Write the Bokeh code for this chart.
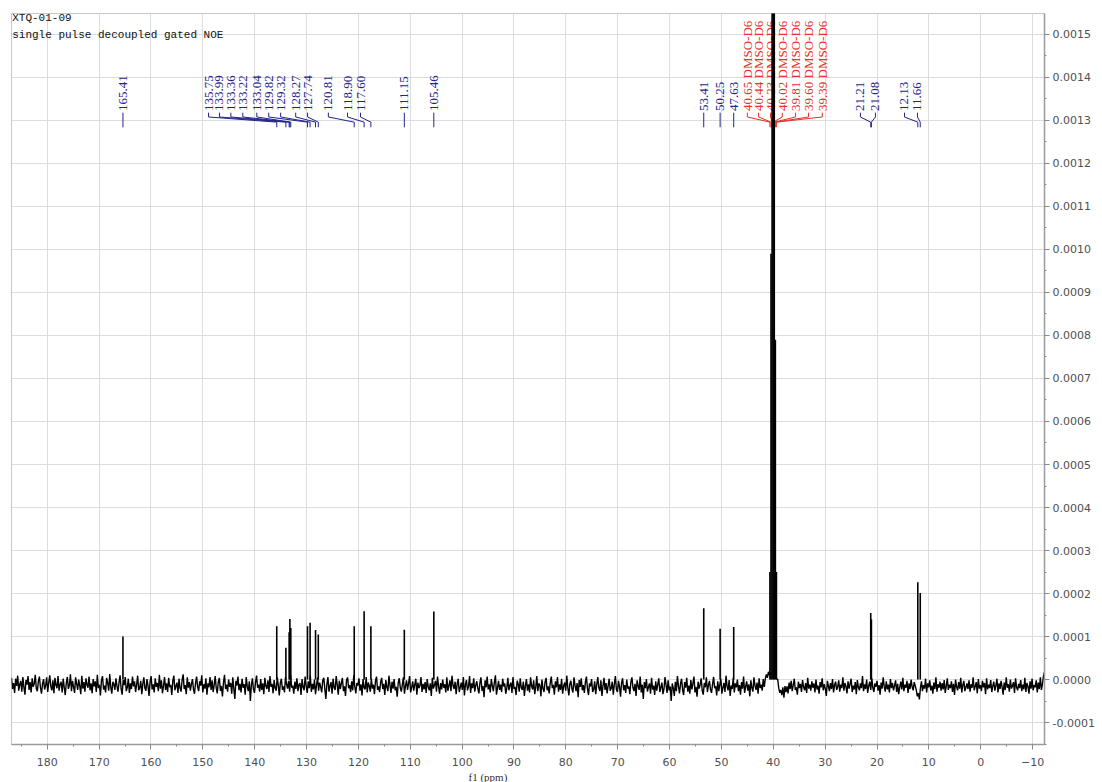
import numpy as np
from bokeh.plotting import figure
from bokeh.models import Range1d, FixedTicker, NumeralTickFormatter, Label, Title
from bokeh.core.properties import value
from bokeh.embed import file_html
from bokeh.resources import INLINE

# 13C spectrum, XTQ-01-09 in DMSO-d6
peak_ppm = [165.41, 135.75, 133.99, 133.36, 133.22, 133.04, 129.82, 129.32, 128.27, 127.74,
            120.81, 118.90, 117.60, 111.15, 105.46, 53.41, 50.25, 47.63, 21.21, 21.08, 12.13, 11.66]
peak_int = [1.00e-4, 1.24e-4, 0.74e-4, 1.10e-4, 1.41e-4, 1.20e-4, 1.24e-4, 1.32e-4, 1.15e-4, 1.05e-4,
            1.24e-4, 1.59e-4, 1.24e-4, 1.16e-4, 1.58e-4, 1.66e-4, 1.18e-4, 1.22e-4, 1.55e-4, 1.40e-4,
            2.26e-4, 2.01e-4]
# where each peak label sits along the ppm axis
label_at = [165.41, 148.9, 146.8, 144.6, 142.3, 139.6, 137.3, 135.0, 132.1, 129.8,
            125.8, 122.1, 119.6, 111.15, 105.46, 53.41, 50.25, 47.63, 23.2, 20.3, 14.7, 12.2]

solvent_ppm = [40.65, 40.44, 40.23, 40.02, 39.81, 39.60, 39.39]
solvent_int = [2.5e-4, 9.9e-4, 1.9e-3, 2.2e-3, 2.0e-3, 7.9e-4, 2.5e-4]
solvent_label_at = [45.0, 42.84, 40.53, 38.27, 35.7, 33.2, 30.56]

# baseline trace (units of 1e-6), sampled evenly from 186.9 to -12.3 ppm
noise_start, noise_end = 186.9, -12.3
noise = [
    4, -22, -8, -31, 2, -15, 9, -26, -11, -3, -28, 6, -18, -35, -1, -12, 8, -24, -6, -30, 3, -17, -9, 11, -21,
    -27, -4, 7, -19, -33, -10, 1, -23, -14, 5, -29, -7, 10, -16, -25, -2, -32, 4, -13, -20, 8, -26, -11, -5, -30,
    2, -18, -36, -8, 6, -22, -13, 12, -27, -3, -17, -31, 5, -10, -24, 0, -15, -34, 9, -21, -6, -28, 3, -12, -19,
    7, -25, -9, -32, 1, -16, -4, -29, 11, -20, -12, -37, -2, 8, -23, -14, -30, 4, -8, -26, 13, -18, -33, -5, -11,
    -24, 3, -15, -28, -7, 10, -21, -35, -1, -13, 6, -27, -18, 2, -31, -9, -22, 7, -16, -4, -29, -12, 9, -25, -19,
    -3, -34, -10, 5, -20, -26, 1, -14, -38, -6, 8, -23, -11, -30, 3, -17, -8, -27, 11, -21, -2, -32, -15, 6, -24,
    -9, -29, 4, -18, -12, -36, -3, 9, -25, -16, -7, -31, 2, -20, -28, -1, 12, -22, -13, -34, 5, -19, -6, -26, -10,
    1, -23, -33, -8, 7, -17, -27, -4, -14, 10, -30, -11, -21, 3, -35, -9, -18, 6, -24, -2, -29, -13, 8, -20, -32,
    -5, 4, -26, -15, -39, -7, 11, -22, -12, -28, 0, -17, -8, -33, 5, -21, -45, -3, -14, 7, -25, -10, -30, 2, -19,
    -11, -35, 6, -16, -27, -4, -50, -13, 3, -23, -31, -6, 9, -19, -12, -28, 1, -24, -9, -34, 4, -15, -22, -2, -29,
    8, -17, -10, -32, -1, -20, -26, 5, -13, -37, -7, 2, -24, -16, -30, 6, -11, -21, -3, -28, 10, -19, -14, -33, -5,
    -22, 3, -27, -12, -8, -36, 1, -18, -25, 7, -15, -31, -4, -20, 9, -29, -10, -23, 0, -34, -13, 5, -26, -7, -17,
    -30, -2, 4, -21, -45, -11, 6, -28, -15, -6, -33, 2, -19, -24, 8, -12, -35, -3, -22, -9, 4, -27, -16, -38, -1,
    5, -20, -13, -29, -4, -25, 10, -17, -32, -8, -14, 3, -26, -11, -37, 1, -19, -23, 6, -30, -7, -15, -28, 2, -21,
    -12, -34, -3, 7, -24, -16, -29, -6, 4, -22, -10, -36, -1, -18, -27, 9, -13, -31, -5, -21, 1, -25, -17, -40, -8,
    3, -19, -28, -11, 5, -33, -15, -2, -24, -9, 8, -30, -18, -4, -26, -12, 2, -35, -7, -20, -14, 6, -29, -10, -23,
    -6, -31, 1, -17, -25, -9, -38, 4, -21, -13, -3, -28, 7, -16, -33, -8, -23, 0, -19, -11, -30, 5, -26, -15, -2,
    -27, 9, -14, -22, -5, -34, -10, 2, -29, -18, -7, -24, 6, -37, -12, -1, -25, -16, 8, -31, -9, -20, 3, -28, -13,
    -4, -21, -32, -8, 5, -26, -15, -41, -2, -18, 7, -23, -11, -30, 1, -14, -27, -6, 10, -35, -19, -3, -24, -12, -29,
    2, -16, -9, -33, -20, 4, -25, -13, -7, -31, 6, -22, -17, -36, -3, -10, -28, 3, -19, -24, -5, -38, -14, 1, -26,
    -11, -30, 5, -15, -23, -2, -34, -18, 8, -27, -9, -13, -39, 0, -21, -29, -6, 4, -25, -16, -32, -8, 7, -20, -12,
    -35, -4, -18, 6, -28, -11, -24, 2, -33, -15, -7, -26, 9, -19, -37, -10, -3, -22, -30, 5, -14, -27, -8, -41, -1,
    -17, 3, -25, -13, -31, -6, 7, -21, -36, -9, -16, 1, -29, -23, -4, -34, -12, 6, -19, -27, -2, -38, -15, 4, -24,
    -8, -32, -14, 2, -26, -20, -5, -35, -11, 8, -23, -29, -3, -17, -40, -7, 3, -25, -13, -31, 0, -21, -16, -34, -6,
    5, -19, -27, -10, -38, -2, -15, -24, 7, -30, -12, -45, -6, -20, 1, -28, -17, -9, -33, 4, -23, -14, -36, -4, -26,
    -11, 3, -29, -18, -7, -34, -22, 6, -13, -31, -2, -25, -16, -50, -9, -20, -38, -5, -27, 8, -15, -32, -10, 2, -24,
    -36, -6, -19, 4, -28, -14, -33, -1, -23, -9, 7, -30, -17, -40, -5, -21, -12, 3, -26, -35, -8, -18, 5, -29, -13,
    -3, -24, -31, -10, 6, -20, -15, -37, -4, -27, -12, 2, -33, -19, -8, -29, 9, -16, -25, -1, -38, -14, -22, 4, -30,
    -9, -18, 0, -27, -13, -35, -6, -21, 7, -31, -16, -4, -26, -11, -39, -2, -19, -28, 5, -14, -24, -7, -33, 3, -20,
    -12, -26, 1, -17, 2, 12, 4, 18, 10, 16, 12, 10, 8, 6, 4, 2, 0, -20, -31, -24, -36, -18, -42, -15, -29,
    -16, -32, -7, -22, -3, -27, -13, 2, -24, -18, -35, -5, -20, -10, -29, -1, -17, -25, -8, -31, 4, -21, -12, -26, -4,
    -19, -9, -30, 0, -23, -14, -33, -6, -18, 3, -25, -11, -21, -38, -3, -15, -27, -8, -22, 1, -30, -13, -5, -24, -17,
    -2, -28, -12, -20, 5, -26, -8, -16, -32, -4, -21, -10, 2, -29, -14, -23, -6, -34, -1, -18, -25, -9, -20, 8, -27,
    -11, -22, 0, -31, -15, -5, -24, 3, -19, -29, -9, -17, -3, -26, -13, -35, -7, -21, 5, -16, -28, -4, -23, -12, -30,
    1, -20, -8, -25, -14, -2, -29, -10, -34, -18, -5, -23, 4, -27, -12, -19, -3, -31, -9, -22, 0, -17, -25, -6, -15,
    -24, -39, -32, -46, -20, -4, -27, -13, -21, 2, -30, -9, -18, -2, -25, -14, -33, -7, -22, 5, -28, -11, -19, -5, -26,
    -8, -23, -1, -31, -15, 3, -24, -12, -20, -4, -29, -10, -36, 0, -17, -25, -6, -21, 4, -30, -13, -3, -27, -18, -9,
    -22, -2, -28, -11, -19, 5, -25, -16, -6, -32, 1, -21, -13, -27, -3, -18, -8, -34, 3, -23, -12, -20, -1, -29, -15,
    -5, -26, -14, 2, -30, -9, -22, -3, -17, -35, -7, -24, 5, -19, -11, -28, 0, -21, -15, -6, -31, 3, -18, -25, -10,
    -20, -1, -27, -12, -23, 4, -29, -8, -16, -33, -4, -21, 2, -25, -13, -18, -2, -30, -7, -22, 5, -24, -11, 8, 18,
]

x_ticks = [180, 170, 160, 150, 140, 130, 120, 110, 100, 90, 80, 70, 60, 50, 40, 30, 20, 10, 0, -10]
y_ticks = [-0.0001, 0.0, 0.0001, 0.0002, 0.0003, 0.0004, 0.0005, 0.0006, 0.0007, 0.0008,
           0.0009, 0.0010, 0.0011, 0.0012, 0.0013, 0.0014, 0.0015]

BLUE = "#23238c"
RED = "#e8302a"
GRID = "#dcdcdc"

p = figure(width=1102, height=782, output_backend="svg", toolbar_location=None,
           x_range=Range1d(186.9, -12.3), y_range=Range1d(-0.000151, 0.0015486),
           y_axis_location="right",
           min_border_left=11, min_border_top=13, min_border_right=58, min_border_bottom=37)
p.background_fill_color = "white"
p.border_fill_color = "white"
p.outline_line_color = "#c8c8c8"

# axes
xt = FixedTicker(ticks=x_ticks, minor_ticks=[t + 5 for t in x_ticks] + [-15])
yt = FixedTicker(ticks=y_ticks, minor_ticks=[t + 0.00005 for t in y_ticks] + [-0.00015])
p.xaxis.ticker = xt
p.yaxis.ticker = yt
p.yaxis.formatter = NumeralTickFormatter(format="0.0000")
for ax in (p.xaxis[0], p.yaxis[0]):
    ax.axis_line_color = "#9a9a9a"
    ax.axis_line_width = 1.5
    ax.major_tick_line_color = "#8a8a8a"
    ax.minor_tick_line_color = "#8a8a8a"
    ax.major_tick_out = 5
    ax.major_tick_in = 0
    ax.minor_tick_out = 2
    ax.minor_tick_in = 0
    ax.major_label_text_font = "DejaVu Sans"
    ax.major_label_text_font_size = "11px"
    ax.major_label_text_color = "#505050"
p.xaxis.major_label_standoff = 8
p.yaxis.major_label_standoff = 3

p.xgrid.ticker = xt
p.ygrid.ticker = yt
p.xgrid.grid_line_color = GRID
p.ygrid.grid_line_color = GRID

p.add_layout(Title(text="f1 (ppm)", align="left", offset=457, standoff=0,
                   text_font="Liberation Serif", text_font_size="11px",
                   text_font_style="normal", text_color="#333333"), "below")

# peak labels with leader lines
Y_TXT = 0.001322
Y_L = [0.001318, 0.001308, 0.001296, 0.001284]


def leaders(lab, pk):
    xs = [[a, a, b, b] for a, b in zip(lab, pk)]
    ys = [list(Y_L) for _ in lab]
    return xs, ys


xs, ys = leaders(label_at, peak_ppm)
p.multi_line(xs, ys, line_color=BLUE, line_width=1)
p.text(x=label_at, y=[Y_TXT] * len(label_at), text=[f"{v:.2f}" for v in peak_ppm],
       angle=np.pi / 2, text_align="left", text_baseline="middle",
       text_font=value("Liberation Serif"), text_font_size="13px", text_color=BLUE)

xs, ys = leaders(solvent_label_at, solvent_ppm)
p.multi_line(xs, ys, line_color=RED, line_width=1)
p.text(x=solvent_label_at, y=[Y_TXT] * len(solvent_label_at),
       text=[f"{v:.2f} DMSO-D6" for v in solvent_ppm],
       angle=np.pi / 2, text_align="left", text_baseline="middle",
       text_font=value("Liberation Serif"), text_font_size="13px", text_color=RED)

# spectrum
nx = np.linspace(noise_start, noise_end, len(noise))
p.line(nx, np.array(noise) * 1e-6, line_color="black", line_width=1.4)
p.segment(x0=peak_ppm, y0=[0] * len(peak_ppm), x1=peak_ppm, y1=peak_int,
          line_color="black", line_width=1.6)
p.segment(x0=solvent_ppm, y0=[0] * len(solvent_ppm), x1=solvent_ppm, y1=solvent_int,
          line_color="black", line_width=1.6)

# sample header
for txt, yy in (("XTQ-01-09", 0.001537), ("single pulse decoupled gated NOE", 0.0014976)):
    p.add_layout(Label(x=186.77, y=yy, text=txt, text_baseline="middle",
                       text_font="Liberation Mono", text_font_size="11px",
                       text_color="#111111"))

open("out.html", "w").write(file_html(p, INLINE))
